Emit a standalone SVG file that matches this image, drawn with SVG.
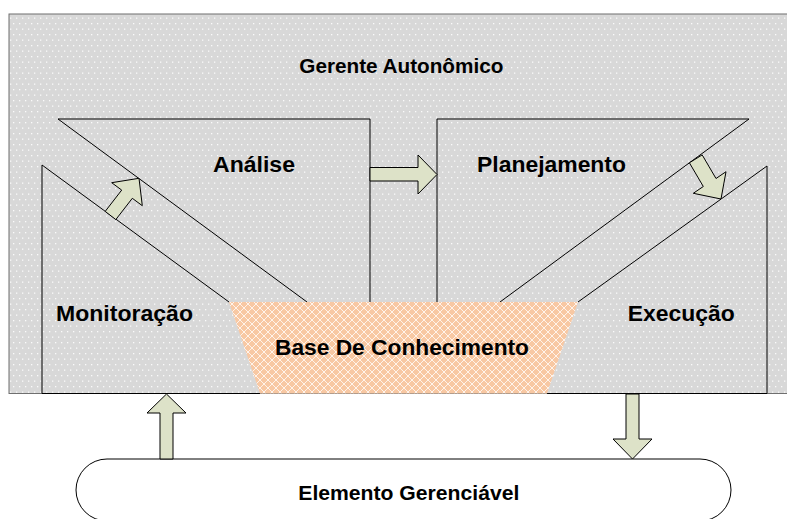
<svg xmlns="http://www.w3.org/2000/svg" width="787" height="519" viewBox="0 0 787 519">
<style>
.lbl{font-family:"Liberation Sans",Arial,sans-serif;font-weight:bold;fill:#000;}
.big{font-size:22.5px;}
.edge{fill:none;stroke:#000;stroke-width:1;}
.arr{fill:#dde2c8;stroke:#000;stroke-width:1;stroke-linejoin:miter;}
</style>
<defs>
<pattern id="dots" x="0" y="0" width="6" height="11" patternUnits="userSpaceOnUse">
<rect width="6" height="11" fill="#d8d8d8"/>
<rect x="1" y="1" width="1.3" height="1.3" fill="#fafafa"/>
<rect x="4" y="6.5" width="1.3" height="1.3" fill="#fafafa"/>
</pattern>
<pattern id="hatch" x="0" y="0" width="8" height="8" patternUnits="userSpaceOnUse">
<rect width="8" height="8" fill="#f8c8a3"/>
<path d="M0,0 L8,8 M8,0 L0,8" stroke="#fff3ea" stroke-width="1" fill="none"/>
</pattern>
</defs>

<g id="gerente-autonomico">
<rect x="9" y="14" width="790" height="379.5" fill="url(#dots)" stroke="#6f6f6f" stroke-width="1"/>
<text class="lbl" x="299.3" y="73" font-size="21" textLength="204" lengthAdjust="spacingAndGlyphs">Gerente Autonômico</text>
</g>

<g id="monitoracao">
<path class="edge" d="M260,393.5 L42,393.5 L42,165 L229,302"/>
<text class="lbl big" x="56" y="321" textLength="137" lengthAdjust="spacingAndGlyphs">Monitoração</text>
</g>

<g id="analise">
<path class="edge" d="M307,302 L58,119 L370,119 L370,302"/>
<text class="lbl big" x="213" y="172" textLength="82" lengthAdjust="spacingAndGlyphs">Análise</text>
</g>

<g id="planejamento">
<path class="edge" d="M500,302 L749,119 L437,119 L437,302"/>
<text class="lbl big" x="477" y="172" textLength="149" lengthAdjust="spacingAndGlyphs">Planejamento</text>
</g>

<g id="execucao">
<path class="edge" d="M578,302 L767,166 L767,393.5 L547,393.5"/>
<text class="lbl big" x="627.7" y="321" textLength="107" lengthAdjust="spacingAndGlyphs">Execução</text>
</g>

<g id="base-de-conhecimento">
<polygon points="229,302 578,302 547,393.5 260,393.5" fill="url(#hatch)"/>
<text class="lbl big" x="275" y="355" textLength="254" lengthAdjust="spacingAndGlyphs">Base De Conhecimento</text>
</g>

<g id="elemento-gerenciavel">
<path d="M107,459 L700,459 A31,31 0 0 1 700,521 L107,521 A31,31 0 0 1 107,459 Z" fill="#fff" stroke="#000" stroke-width="1"/>
<text class="lbl" x="298.3" y="500" font-size="20" textLength="221" lengthAdjust="spacingAndGlyphs">Elemento Gerenciável</text>
</g>

<g id="connectors">
<polygon class="arr" points="105.2,211.4 121.7,190.1 111.7,182.7 139,178.3 142.3,205.7 132.3,198.3 115.8,219.6"/>
<polygon class="arr" points="370,167.5 418,167.5 418,155 437,174.5 418,194 418,181 370,181"/>
<polygon class="arr" points="689.4,162.8 702.2,154.9 716,178.5 726,171.7 721,199 693.3,193.3 703.3,186.5"/>
<polygon class="arr" points="160,459 160,413 147,413 166.5,394 186,413 173,413 173,459"/>
<polygon class="arr" points="626,394 626,439 613,439 632.5,459 652,439 639,439 639,394"/>
</g>
</svg>
